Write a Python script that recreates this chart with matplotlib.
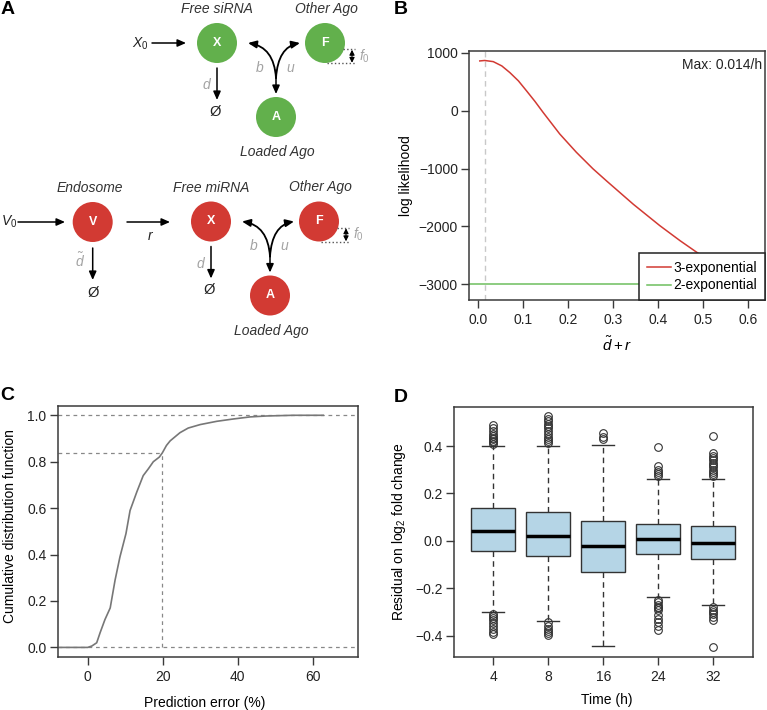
import numpy as np
import matplotlib
matplotlib.use('Agg')
import matplotlib.pyplot as plt
from matplotlib.patches import Circle, FancyArrowPatch
from matplotlib.path import Path

plt.rcParams['font.family'] = ['Liberation Sans', 'DejaVu Sans']
plt.rcParams['mathtext.fontset'] = 'custom'
plt.rcParams['mathtext.rm'] = 'Liberation Sans'
plt.rcParams['mathtext.it'] = 'Liberation Sans:italic'

# ---- data ----
# B: log likelihood profile
ll_x = [0.003, 0.014, 0.033, 0.052, 0.07, 0.089, 0.107, 0.126, 0.144, 0.181,
        0.218, 0.255, 0.286, 0.345, 0.404, 0.449, 0.486, 0.52]
ll_3exp = [862, 870, 850, 776, 660, 517, 345, 160, -29, -402,
           -719, -1005, -1220, -1620, -1990, -2250, -2450, -2620]
ll_2exp = -3000
ll_max = 0.014

# C: cumulative distribution of prediction error
err_x = [-7.4, 0, 1.1, 2.4, 3.3, 4.6, 6.0, 7.3, 8.6, 10.2, 11.3, 13.1, 14.8,
         16.2, 17.5, 19.1, 19.9, 21.0, 22.0, 24.6, 26.8, 30, 34.4, 38.8, 43.3,
         47.7, 54.8, 62.8]
err_cdf = [0, 0, 0.006, 0.02, 0.063, 0.12, 0.17, 0.29, 0.39, 0.49, 0.59, 0.67,
           0.74, 0.77, 0.80, 0.82, 0.838, 0.87, 0.89, 0.925, 0.945, 0.96, 0.974,
           0.984, 0.993, 0.997, 1.0, 1.0]
err_mark = 19.8
cdf_mark = 0.838

# D: residual boxplots
times = [4, 8, 16, 24, 32]
q1 = [-0.044, -0.063, -0.131, -0.054, -0.075]
med = [0.041, 0.021, -0.021, 0.006, -0.010]
q3 = [0.137, 0.123, 0.083, 0.072, 0.062]
whislo = [-0.301, -0.337, -0.444, -0.238, -0.271]
whishi = [0.401, 0.401, 0.404, 0.263, 0.263]
fliers = [
    [0.489, 0.475, 0.463, 0.452, 0.443, 0.435, 0.428, 0.421, 0.415, 0.41,
     -0.31, -0.318, -0.325, -0.335, -0.345, -0.36, -0.372, -0.385, -0.393],
    [0.527, 0.515, 0.505, 0.495, 0.485, 0.475, 0.465, 0.45, 0.44, 0.43, 0.42, 0.411,
     -0.343, -0.36, -0.37, -0.38, -0.39, -0.397],
    [0.455, 0.44, 0.428],
    [0.397, 0.315, 0.30, 0.29, 0.28, 0.272,
     -0.249, -0.26, -0.27, -0.278, -0.285, -0.29, -0.313, -0.33, -0.341, -0.36, -0.376],
    [0.444, 0.369, 0.36, 0.35, 0.34, 0.33, 0.32, 0.31, 0.30, 0.29, 0.28, 0.272,
     -0.28, -0.29, -0.30, -0.31, -0.32, -0.334, -0.449],
]

W, H = 767, 710
green = '#62B04C'
red = '#D23A33'
pgray = '#A3A3A3'
spine_c = '#3A3A3A'

fig = plt.figure(figsize=(W / 100, H / 100), dpi=100)

def px_rect(l, t, r, b):
    return [l / W, 1 - b / H, (r - l) / W, (b - t) / H]

def style_ax(ax):
    for s in ax.spines.values():
        s.set_color(spine_c)
        s.set_linewidth(1.1)
    ax.tick_params(direction='out', length=5.5, width=1, color=spine_c,
                   labelsize=10, labelcolor='#222')
    ax.tick_params(axis='y', pad=2.5)
    ax.tick_params(axis='x', pad=4)

# ---- A: diagram (pixel coordinates) ----
axd = fig.add_axes([0, 0, 1, 1], zorder=0)
axd.set_xlim(0, W)
axd.set_ylim(H, 0)
axd.axis('off')

def arrow(p1, p2, color='k', style='-|>'):
    axd.add_patch(FancyArrowPatch(p1, p2, arrowstyle=style + ',head_length=0.5,head_width=0.22',
                                  mutation_scale=10, lw=1.1, color=color,
                                  shrinkA=0, shrinkB=0))

def curved(p0, c, p1):
    path = Path([p0, c, p1], [Path.MOVETO, Path.CURVE3, Path.CURVE3])
    axd.add_patch(FancyArrowPatch(path=path, arrowstyle='-|>,head_length=0.5,head_width=0.22',
                                  mutation_scale=10, lw=1.3, color='k'))

def node(x, y, letter, color):
    axd.add_patch(Circle((x, y), 20, color=color, ec='none'))
    axd.text(x, y, letter, ha='center', va='center', color='white',
             fontsize=9, fontweight='bold')

def label(x, y, s, color='#333', size=10, style='italic'):
    axd.text(x, y, s, ha='center', va='center', color=color, fontsize=size, style=style)

def module(ox, oy, color, name):
    # X, F, A nodes with binding/unbinding and decay
    xx, fx, ax_ = 217 + ox, 325 + ox, 276 + ox
    yy, ay = 43 + oy, 117 + oy
    node(xx, yy, 'X', color)
    node(fx, yy, 'F', color)
    node(ax_, ay, 'A', color)
    label(xx, 9 + oy, name)
    label(fx + 1, 9 + oy, 'Other Ago')
    label(ax_ + 1, 152 + oy, 'Loaded Ago')
    arrow((xx, 68 + oy), (xx, 100 + oy))
    label(xx - 11, 85 + oy, 'd', color=pgray)
    axd.text(xx - 2, 112 + oy, '\u00d8', ha='center', va='center', fontsize=10.5, color='#222')
    curved((ax_, 78 + oy), (ax_ - 2, 47 + oy), (xx + 31, 43 + oy))
    curved((ax_, 78 + oy), (ax_ + 2, 47 + oy), (fx - 25, 43 + oy))
    arrow((ax_, 70 + oy), (ax_, 94 + oy))
    label(ax_ - 16, 68 + oy, 'b', color=pgray)
    label(ax_ + 14, 68 + oy, 'u', color=pgray)
    # f0 slice marker
    axd.plot([fx + 18, fx + 30], [49.3 + oy, 49.3 + oy], ls=':', color='#555', lw=1)
    axd.plot([fx + 2, fx + 30], [63.3 + oy, 63.3 + oy], ls=':', color='#555', lw=1)
    axd.add_patch(FancyArrowPatch((fx + 27, 49.8 + oy), (fx + 27, 62.8 + oy),
                                  arrowstyle='<|-|>,head_length=0.3,head_width=0.15',
                                  mutation_scale=10, lw=0.8, color='k',
                                  shrinkA=0, shrinkB=0))
    label(fx + 39, 56 + oy, '$f_0$', color=pgray)

module(0, 0, green, 'Free siRNA')
axd.text(140, 44, '$X_0$', ha='center', va='center', fontsize=10, color='#222')
arrow((152, 43), (186, 43))

module(-6, 178.5, red, 'Free miRNA')
node(92.7, 222, 'V', red)
label(90, 188, 'Endosome')
axd.text(9, 222, '$V_0$', ha='center', va='center', fontsize=10, color='#222')
arrow((18, 222), (65, 222))
arrow((127, 222), (170, 222))
label(150, 236, 'r', color='#222')
arrow((92.7, 248), (92.7, 280))
axd.text(80, 261, r'$\tilde{d}$', ha='center', va='center', fontsize=10, color=pgray)
axd.text(92.7, 293, '\u00d8', ha='center', va='center', fontsize=10.5, color='#222')

for s, x, y in [('A', 7.5, 10), ('B', 401, 10), ('C', 7.5, 395), ('D', 401, 397)]:
    axd.text(x, y, s, ha='center', va='center', fontsize=14, fontweight='bold')

# ---- B: likelihood ----
axb = fig.add_axes(px_rect(469, 51, 765, 300), zorder=2)
axb.axvline(ll_max, color='#C8C8C8', ls=(0, (4, 3)), lw=1)
axb.plot(ll_x, ll_3exp, color=red, lw=1.1, label='3-exponential')
axb.axhline(ll_2exp, color='#6DBE5E', lw=1.1, label='2-exponential')
axb.set_xlim(-0.021, 0.638)
axb.set_ylim(-3276, 1034)
axb.set_xticks(np.arange(0, 0.61, 0.1))
axb.set_xticklabels(['%.1f' % v for v in np.arange(0, 0.61, 0.1)])
axb.set_yticks([-3000, -2000, -1000, 0, 1000])
axb.set_ylabel('log likelihood', fontsize=10)
axb.yaxis.set_label_coords(-0.19, 0.5)
axb.set_xlabel(r'$\tilde{d}+r$', fontsize=11)
axb.xaxis.set_label_coords(0.5, -0.14)
axb.text(0.99, 0.944, 'Max: 0.014/h', transform=axb.transAxes, ha='right', va='center',
         fontsize=10, color='#222')
leg = axb.legend(loc='lower right', bbox_to_anchor=(1, 0), borderaxespad=0,
                 fancybox=False, framealpha=1, edgecolor='#222', fontsize=10,
                 handlelength=1.75, handletextpad=0.2, labelspacing=0.25,
                 borderpad=0.55)
leg.get_frame().set_linewidth(1.1)
style_ax(axb)

# ---- C: CDF ----
axc = fig.add_axes(px_rect(57.7, 406, 357.7, 656.7), zorder=2)
xl = (-8, 72)
axc.axhline(0, color='#888', ls=(0, (3, 3)), lw=0.9)
axc.axhline(1, color='#888', ls=(0, (3, 3)), lw=0.9)
axc.plot([xl[0], err_mark], [cdf_mark, cdf_mark], color='#888', ls=(0, (3, 3)), lw=0.9)
axc.plot([err_mark, err_mark], [0, cdf_mark], color='#888', ls=(0, (3, 3)), lw=0.9)
axc.plot(err_x, err_cdf, color='#777', lw=1.2)
axc.set_xlim(*xl)
axc.set_ylim(-0.04, 1.04)
axc.set_xticks([0, 20, 40, 60])
axc.set_yticks(np.arange(0, 1.01, 0.2))
axc.set_yticklabels(['%.1f' % v for v in np.arange(0, 1.01, 0.2)])
axc.set_ylabel('Cumulative distribution function', fontsize=10)
axc.yaxis.set_label_coords(-0.136, 0.52)
axc.set_xlabel('Prediction error (%)', fontsize=10)
axc.xaxis.set_label_coords(0.49, -0.155)
style_ax(axc)

# ---- D: boxplots ----
axr = fig.add_axes(px_rect(454.3, 406.7, 753.3, 656.7), zorder=2)
stats = []
for i in range(len(times)):
    stats.append(dict(med=med[i], q1=q1[i], q3=q3[i], whislo=whislo[i],
                      whishi=whishi[i], fliers=fliers[i], label=str(times[i])))
axr.bxp(stats, positions=range(1, 6), widths=0.8, capwidths=0.4, patch_artist=True,
        boxprops=dict(facecolor='#B5D5E6', edgecolor='#333', lw=1),
        whiskerprops=dict(ls=(0, (4, 3)), color='#333', lw=1),
        capprops=dict(color='#333', lw=1),
        medianprops=dict(color='k', lw=2.5, solid_capstyle='butt'),
        flierprops=dict(marker='o', mfc='none', mec='#333', ms=5.5, mew=0.8))
axr.set_xlim(0.29, 5.73)
axr.set_ylim(-0.489, 0.566)
axr.set_yticks([-0.4, -0.2, 0.0, 0.2, 0.4])
axr.set_yticklabels(['\u22120.4', '\u22120.2', '0.0', '0.2', '0.4'])
axr.set_ylabel('Residual on log$_2$ fold change', fontsize=10)
axr.yaxis.set_label_coords(-0.155, 0.5)
axr.set_xlabel('Time (h)', fontsize=10)
axr.xaxis.set_label_coords(0.51, -0.145)
style_ax(axr)

fig.savefig('out.png', dpi=100)
